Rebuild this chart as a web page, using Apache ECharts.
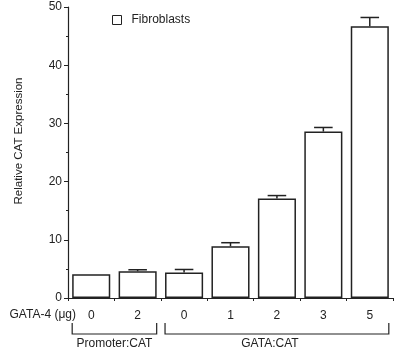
<!DOCTYPE html>
<html>
<head>
<meta charset="utf-8">
<script src="https://cdn.jsdelivr.net/npm/echarts@6/dist/echarts.min.js"></script>
<style>
  html, body { margin: 0; padding: 0; background: #fff; }
  #chart { width: 400px; height: 355px; }
</style>
</head>
<body>
<div id="chart"></div>
<script>
  // GATA-4 dose labels (µg) under each bar
  var doses = ['0', '2', '0', '1', '2', '3', '5'];
  // relative CAT expression, fibroblasts
  var expression = [4.1, 4.6, 4.4, 8.9, 17.1, 28.6, 46.7];
  // upper error (SE)
  var errors = [0, 0.25, 0.5, 0.6, 0.5, 0.7, 1.5];
  // reporter construct groups: [name, first bar index, last bar index]
  var groups = [['Promoter:CAT', 0, 1], ['GATA:CAT', 2, 6]];
  var yTicks = [0, 10, 20, 30, 40, 50];

  var font = 'Liberation Sans, Arial, Helvetica, sans-serif';
  var ink = '#222';

  var chart = echarts.init(document.getElementById('chart'));

  var option = {
    animation: false,
    backgroundColor: '#fff',
    textStyle: { fontFamily: font, color: ink },
    grid: { left: 68, right: 7, top: 7, bottom: 57 },
    legend: {
      left: 107, top: 9,
      icon: 'rect', itemWidth: 9, itemHeight: 9,
      data: ['Fibroblasts'],
      itemStyle: { color: '#fff', borderColor: ink, borderWidth: 1 },
      textStyle: { fontFamily: font, fontSize: 12, color: ink, padding: [0, 0, 0, 5] }
    },
    xAxis: {
      type: 'category',
      data: doses,
      axisLine: { lineStyle: { color: ink, width: 1.2 } },
      axisTick: { show: true, length: 3, lineStyle: { color: ink } },
      axisLabel: { fontFamily: font, fontSize: 12, color: ink, margin: 12 }
    },
    yAxis: {
      type: 'value',
      min: yTicks[0], max: yTicks[yTicks.length - 1], interval: 10,
      axisLine: { show: true, lineStyle: { color: ink, width: 1.2 } },
      axisTick: { show: true, length: 4, lineStyle: { color: ink } },
      minorTick: { show: true, splitNumber: 2, length: 2, lineStyle: { color: ink } },
      splitLine: { show: false },
      axisLabel: { fontFamily: font, fontSize: 12, color: ink, margin: 6 }
    },
    series: [
      {
        name: 'Fibroblasts',
        type: 'bar',
        data: expression,
        barWidth: '82%',
        itemStyle: { color: '#fff', borderColor: ink, borderWidth: 1.5 }
      },
      {
        name: 'error',
        type: 'custom',
        data: expression.map(function (v, i) { return [i, v, v + errors[i]]; }),
        z: 3,
        renderItem: function (params, api) {
          var i = api.value(0);
          var lo = api.coord([i, api.value(1)]);
          var hi = api.coord([i, api.value(2)]);
          if (hi[1] >= lo[1] - 0.5) return null;
          var half = api.size([1, 0])[0] * 0.2;
          var st = { stroke: ink, lineWidth: 1.5 };
          return {
            type: 'group',
            children: [
              { type: 'line', shape: { x1: lo[0], y1: lo[1], x2: hi[0], y2: hi[1] }, style: st },
              { type: 'line', shape: { x1: hi[0] - half, y1: hi[1], x2: hi[0] + half, y2: hi[1] }, style: st }
            ]
          };
        }
      }
    ]
  };
  chart.setOption(option);

  // y title, dose caption, brackets and group captions, placed from the scales
  function drawAnnotations() {
    var x0 = chart.convertToPixel({ xAxisIndex: 0 }, 0);
    var x1 = chart.convertToPixel({ xAxisIndex: 0 }, 1);
    var yBase = chart.convertToPixel({ yAxisIndex: 0 }, 0);
    var half = (x1 - x0) * 0.41;
    var top = yBase + 25, bot = yBase + 36;
    var g = [
      {
        type: 'text', x: 19, y: 141, rotation: Math.PI / 2,
        style: { text: 'Relative CAT Expression', font: '11.5px ' + font, fill: ink,
                 textAlign: 'center', textVerticalAlign: 'middle' }
      },
      {
        type: 'text', x: 76, y: yBase + 17,
        style: { text: 'GATA-4 (\u03bcg)', font: '12px ' + font, fill: ink,
                 textAlign: 'right', textVerticalAlign: 'middle' }
      }
    ];
    groups.forEach(function (grp, k) {
      var a = chart.convertToPixel({ xAxisIndex: 0 }, grp[1]) - half;
      var b = chart.convertToPixel({ xAxisIndex: 0 }, grp[2]) + half;
      g.push({
        type: 'polyline',
        shape: { points: [[a, top], [a, bot], [b, bot], [b, top]] },
        style: { stroke: ink, lineWidth: 1.2, fill: null }
      });
      g.push({
        type: 'text', x: (a + b) / 2 - (k === 1 ? 7 : 0), y: bot + 4,
        style: { text: grp[0], font: '12px ' + font, fill: ink, textAlign: 'center', textVerticalAlign: 'top' }
      });
    });
    chart.setOption({ graphic: g });
  }
  drawAnnotations();
</script>
</body>
</html>
